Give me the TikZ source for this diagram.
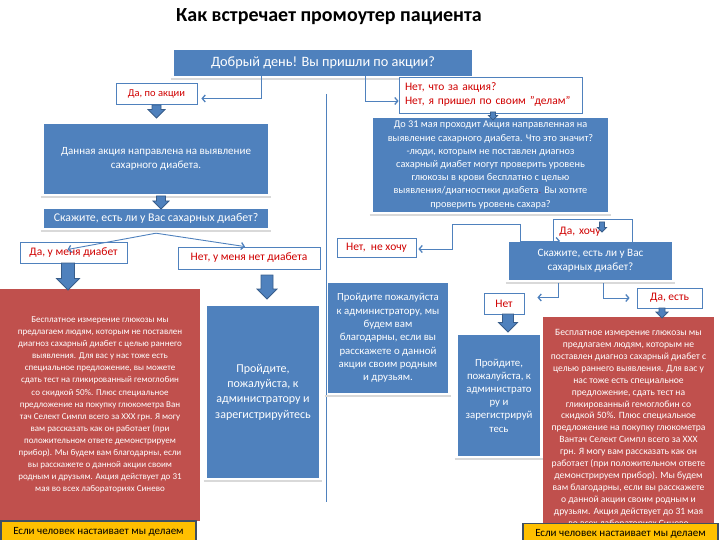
\documentclass[tikz,border=0pt]{standalone}
\usepackage{fontspec}
\setmainfont{Carlito}
\usetikzlibrary{positioning,arrows.meta,calc}
\definecolor{promblue}{HTML}{4F81BD}
\definecolor{promedge}{HTML}{385D8A}
\definecolor{promred}{HTML}{C0504D}
\definecolor{promword}{HTML}{D00000}
\definecolor{promshelf}{HTML}{D9D9D9}
\definecolor{promyellow}{HTML}{FFC000}
\definecolor{promdark}{HTML}{3F4F62}
\tikzset{
  box/.style    ={fill=promblue, text=white, align=center, inner sep=1pt},
  redbox/.style ={box, fill=promred},
  answer/.style ={draw=promblue, fill=white, text=promword, inner sep=1pt,
                  line width=0.8pt, font=\fontsize{11.5}{14}\selectfont},
  hint/.style   ={draw=promdark, fill=promyellow, text=black, inner sep=1pt,
                  line width=1.2pt, font=\fontsize{11}{13}\selectfont},
  link/.style   ={draw=promblue, line width=0.9pt,
                  -{Straight Barb[length=3pt,width=7pt,line width=1.3pt]}},
  shelf/.style  ={draw=promshelf, line width=1.5pt},
  sepline/.style={draw=promblue, line width=0.8pt},
  blk/.style    ={fill=promblue, draw=promedge, line width=0.8pt},
}
\newcommand{\fs}[2]{\fontsize{#1}{#2}\selectfont}
\newcommand{\shelfunder}[1]{%
  \draw[shelf] ([xshift=-3pt,yshift=-3pt]#1.south west) --
               ([xshift=3pt,yshift=-3pt]#1.south east);%
}
\newcommand{\blockdown}[5]{%
  \filldraw[blk] ({#1-#4/2},#2) -- ({#1+#4/2},#2) -- ({#1+#4/2},{#3-#5/2})
    -- ({#1+#5/2},{#3-#5/2}) -- (#1,#3) -- ({#1-#5/2},{#3-#5/2})
    -- ({#1-#4/2},{#3-#5/2}) -- cycle;%
}

\begin{document}
\begin{tikzpicture}[x=1pt,y=-1pt]
  \useasboundingbox (0,0) rectangle (720,540);

  \node (title) at (329,17) {\fs{20}{24}\bfseries Как встречает промоутер пациента};

  \node[box, minimum width=298pt, minimum height=26pt, font=\fs{14.3}{16}]
    (greet) at (323,63) {Добрый день! Вы пришли по акции?};
  \shelfunder{greet}
  \coordinate (sepTop) at (326,94);
  \coordinate (sepBot) at (326,502);
  \draw[sepline] (sepTop) -- (sepBot);

  \node[answer, minimum width=81pt, minimum height=21pt, font=\fs{10.5}{13}]
    (yesAction) at (156.5,93.5) {Да, по акции};
  \node[answer, minimum width=183pt, minimum height=36pt, align=left,
        text width=171pt] (noAction) at (490.5,95)
    {Нет, что за акция?\\Нет, я пришел по своим "делам"};
  \draw[link] ([xshift=-62pt]greet.south) |- ([xshift=4pt,yshift=-5pt]yesAction.east);
  \draw[link] ([xshift=42pt]greet.south) |- ([yshift=-6pt]noAction.west);

  \node[box, minimum width=224pt, minimum height=70pt, font=\fs{11}{14}]
    (about) at (156,159) {Данная акция направлена на выявление\\сахарного диабета.};
  \shelfunder{about}
  \node[box, minimum width=224pt, minimum height=19pt, font=\fs{11.8}{13}]
    (askL) at (156,218.5) {Скажите, есть ли у Вас сахарных диабет?};
  \shelfunder{askL}
  \blockdown{156.5}{105}{118}{9}{17}
  \blockdown{161}{196}{209}{9}{16}

  \node[answer, minimum width=107pt, minimum height=21pt]
    (yesDiab) at (73.5,252.5) {Да, у меня диабет};
  \node[answer, minimum width=142pt, minimum height=22pt]
    (noDiab) at (249,258) {Нет, у меня нет диабета};
  \draw[link] ([yshift=-5pt]askL.south) -- ([xshift=-6pt,yshift=3pt]yesDiab.center);
  \draw[link] ([yshift=-5pt]askL.south) -- ([xshift=-4pt]noDiab.north);

  \node[redbox, minimum width=200pt, minimum height=232pt, font=\fs{9}{12.1}]
    (offerL) at (100,405) {Бесплатное измерение глюкозы мы\\
    предлагаем людям, которым не поставлен\\
    диагноз сахарный диабет с целью раннего\\
    выявления. Для вас у нас тоже есть\\
    специальное предложение, вы можете\\
    сдать тест на гликированный гемоглобин\\
    со скидкой 50\%. Плюс специальное\\
    предложение на покупку глюкометра Ван\\
    тач Селект Симпл всего за ХХХ грн. Я могу\\
    вам рассказать как он работает (при\\
    положительном ответе демонстрируем\\
    прибор). Мы будем вам благодарны, если\\
    вы расскажете о данной акции своим\\
    родным  и друзьям. Акция действует до 31\\
    мая во всех лабораториях Синево};
  \node[hint, minimum width=195pt, minimum height=22pt]
    (insistL) at (98.5,532) {Если человек настаивает мы делаем};
  \blockdown{68}{263}{290}{13}{23}

  \node[box, minimum width=112pt, minimum height=172pt, font=\fs{12}{15.3}]
    (regL) at (263,392) {Пройдите,\\пожалуйста, к\\администратору и\\зарегистрируйтесь};
  \shelfunder{regL}
  \blockdown{267}{275}{299}{12}{20}

  \node[box, minimum width=235pt, minimum height=94pt, font=\fs{10.3}{13.2}]
    (info) at (490.5,165) {До 31 мая проходит Акция направленная на\\
    выявление сахарного диабета. Что это значит?\\
    -люди, которым не поставлен диагноз\\
    сахарный диабет могут проверить уровень\\
    глюкозы в крови бесплатно с целью\\
    выявления/диагностики диабета{\color{red}.} Вы  хотите\\
    проверить уровень сахара?};
  \shelfunder{info}
  \blockdown{493}{112}{120}{5}{9}

  \node[answer, minimum width=79pt, minimum height=19pt]
    (neHochu) at (376.5,247.5) {Нет,\ \ не хочу};
  \node[answer, anchor=west, minimum width=79pt, minimum height=26pt,
        text width=67pt, align=left] (yesWant) at (553,232) {Да, хочу};
  \node[box, minimum width=163pt, minimum height=38pt, font=\fs{11.2}{14}]
    (askR) at (590.5,261) {Скажите, есть ли у Вас\\сахарных диабет?};
  \shelfunder{askR}
  \blockdown{602}{222}{232}{5}{9}
  \coordinate (forkL) at (452,224);
  \coordinate (forkR) at (520,224);
  \draw[link] (forkR) -- (forkL) |- ([xshift=2pt,yshift=-1.5pt]neHochu.east);
  \draw[link] (forkR) |- ([xshift=7pt,yshift=-9pt]yesWant.west);

  \node[box, minimum width=120pt, minimum height=110pt, font=\fs{10.8}{13.3}]
    (thanks) at (388,338) {Пройдите пожалуйста\\к администратору, мы\\будем вам\\
    благодарны, если вы\\расскажете о данной\\акции своим  родным\\и друзьям.};
  \shelfunder{thanks}

  \node[answer, minimum width=40pt, minimum height=21pt] (noR) at (504,303.5) {Нет};
  \node[answer, minimum width=65pt, minimum height=20pt] (yesHas) at (669.5,298) {Да, есть};
  \draw[link] ([xshift=-32.5pt,yshift=-3pt]askR.south) |- ([xshift=13pt,yshift=6pt]noR.east);
  \draw[link] ([xshift=12.5pt,yshift=-3pt]askR.south) |- ([xshift=-7pt]yesHas.west);

  \node[box, minimum width=82pt, minimum height=121pt, font=\fs{10.8}{13.2}]
    (regR) at (499,395.5) {Пройдите,\\пожалуйста, к\\администрато\\ру и\\
    зарегистрируй\\тесь};
  \shelfunder{regR}
  \blockdown{508}{314}{332}{11}{19}

  \node[redbox, minimum width=171pt, minimum height=223pt, font=\fs{9.6}{11.9}]
    (offerR) at (628.5,428.5) {Бесплатное измерение глюкозы мы\\
    предлагаем людям, которым не\\
    поставлен диагноз сахарный диабет с\\
    целью раннего выявления. Для вас у\\
    нас тоже есть специальное\\
    предложение, сдать тест на\\
    гликированный гемоглобин со\\
    скидкой 50\%. Плюс специальное\\
    предложение на покупку глюкометра\\
    Вантач Селект Симпл всего за ХХХ\\
    грн. Я могу вам рассказать как он\\
    работает (при положительном ответе\\
    демонстрируем прибор). Мы будем\\
    вам благодарны, если вы расскажете\\
    о данной акции своим  родным  и\\
    друзьям. Акция действует до 31 мая\\
    во всех лабораториях Синево};
  \blockdown{662}{308}{318}{6}{12}
  \node[hint, minimum width=195pt, minimum height=20pt]
    (insistR) at (620.5,533.5) {Если человек настаивает мы делаем};

\end{tikzpicture}
\end{document}
